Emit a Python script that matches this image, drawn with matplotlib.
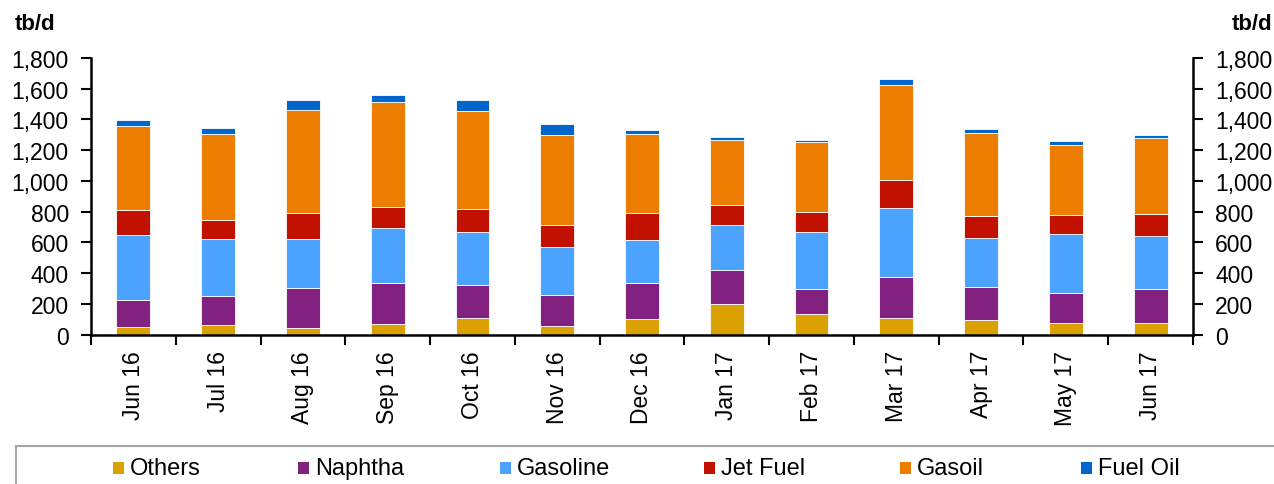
import numpy as np
import matplotlib.pyplot as plt
from matplotlib.patches import Rectangle
from matplotlib.ticker import FuncFormatter, MultipleLocator

plt.rcParams['font.family'] = ['Liberation Sans', 'DejaVu Sans']

# monthly product volumes, tb/d
months = ["Jun 16", "Jul 16", "Aug 16", "Sep 16", "Oct 16", "Nov 16", "Dec 16",
          "Jan 17", "Feb 17", "Mar 17", "Apr 17", "May 17", "Jun 17"]
others = [50, 61, 43, 67, 108, 54, 100, 197, 132, 108, 95, 78, 74]
naphtha = [175, 188, 261, 269, 213, 202, 234, 226, 165, 269, 217, 193, 223]
gasoline = [421, 375, 320, 356, 345, 312, 280, 288, 369, 445, 315, 384, 343]
jet_fuel = [165, 122, 167, 138, 154, 145, 175, 130, 132, 184, 145, 121, 147]
gasoil = [546, 557, 668, 681, 635, 583, 514, 427, 455, 618, 542, 458, 494]
fuel_oil = [39, 39, 65, 50, 71, 74, 30, 20, 13, 41, 22, 26, 16]

series = [
    ("Others", others, "#DBA100"),
    ("Naphtha", naphtha, "#82217F"),
    ("Gasoline", gasoline, "#4BA3FF"),
    ("Jet Fuel", jet_fuel, "#C31100"),
    ("Gasoil", gasoil, "#ED7D00"),
    ("Fuel Oil", fuel_oil, "#0066CC"),
]

W, H = 1274, 485
fig = plt.figure(figsize=(W / 100, H / 100), dpi=100)
ax = fig.add_axes([91 / W, 1 - 335.8 / H, (1193 - 91) / W, (335.8 - 58.8) / H])

x = np.arange(len(months))
base = np.zeros(len(months))
for name, vals, color in series:
    ax.bar(x, vals, 0.4, bottom=base, color=color, edgecolor="#FFFFFF",
           linewidth=0.6, zorder=2)
    base += np.array(vals)

fmt = FuncFormatter(lambda v, p: f"{v:,.0f}")
ax.set_xlim(-0.5, len(months) - 0.5)
ax.set_ylim(0, 1800)
ax.yaxis.set_major_locator(MultipleLocator(200))
ax.yaxis.set_major_formatter(fmt)
ax.set_xticks(x)
ax.set_xticklabels(months, rotation=90)
ax.set_xticks(np.arange(-0.5, len(months), 1), minor=True)
ax.tick_params(axis="x", which="major", length=0, pad=11, labelsize=16.5)
ax.tick_params(axis="x", which="minor", length=7, width=1.5, direction="out")
ax.tick_params(axis="y", length=7, width=1.5, labelsize=16.5, pad=9)
for s in ["top", "right"]:
    ax.spines[s].set_visible(False)
for s in ["left", "bottom"]:
    ax.spines[s].set_linewidth(1.8)

# mirrored scale on the right
ax2 = ax.twinx()
ax2.set_ylim(0, 1800)
ax2.yaxis.set_major_locator(MultipleLocator(200))
ax2.yaxis.set_major_formatter(fmt)
ax2.tick_params(axis="y", length=7, width=1.5, labelsize=16.5, pad=9)
for s in ["top", "left", "bottom"]:
    ax2.spines[s].set_visible(False)
ax2.spines["right"].set_linewidth(1.8)

fig.text(15 / W, 1 - 24 / H, "tb/d", fontsize=16, fontweight="bold",
         ha="left", va="center")
fig.text(1272 / W, 1 - 24 / H, "tb/d", fontsize=16, fontweight="bold",
         ha="right", va="center")

# legend box along the bottom
fig.patches.append(Rectangle((16 / W, -0.1), 1.2, 0.1 + (H - 447) / H,
                             transform=fig.transFigure, facecolor="white",
                             edgecolor="#A6A6A6", linewidth=1.5))
marker_x = [113, 298, 500, 704, 900, 1081]
yc = 469
for (name, vals, color), mx in zip(series, marker_x):
    fig.patches.append(Rectangle((mx / W, 1 - (yc + 6) / H), 11 / W, 12 / H,
                                 transform=fig.transFigure, facecolor=color,
                                 edgecolor="none"))
    fig.text((mx + 17) / W, 1 - yc / H, name, fontsize=17, ha="left", va="center")

fig.savefig("out.png", dpi=100)
